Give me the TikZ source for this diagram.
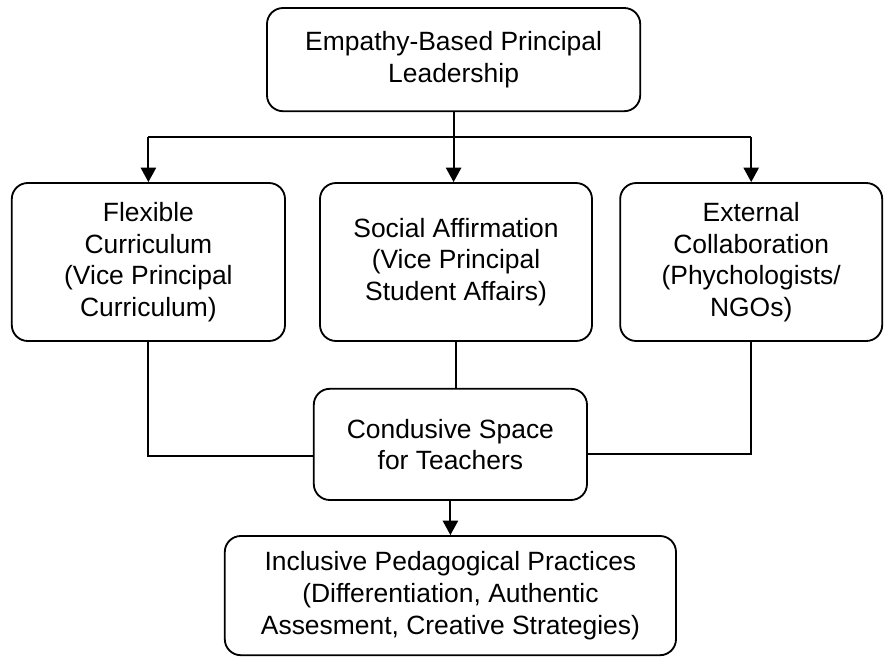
\documentclass[tikz,border=0pt]{standalone}
\usepackage{fontspec}
\setmainfont{Liberation Sans}
\usetikzlibrary{arrows.meta, positioning, calc}

\begin{document}
\begin{tikzpicture}[
    font=\fontsize{18.8}{22.5}\selectfont,
    >={Triangle[length=0.36cm, width=0.38cm]},
    line width=1.3pt,
    box/.style={draw, rounded corners=0.4cm, align=center, inner sep=0pt},
    link/.style={draw, line width=1.3pt},
]

\useasboundingbox (0, 0) rectangle (22.1, -16.425);

\def\rowy{-6.55}

% top box
\node[box, minimum width=9.33cm, minimum height=2.58cm] (lead) at (11.34, -1.49)
    {Empathy-Based Principal\\Leadership};

% middle row
\node[box, minimum width=6.83cm, minimum height=3.95cm] (flex) at (3.71, \rowy)
    {Flexible\\Curriculum\\(Vice Principal\\Curriculum)};
\node[box, minimum width=6.8cm, minimum height=3.95cm] (social) at (11.4, \rowy)
    {Social Affirmation\\(Vice Principal\\Student Affairs)};
\node[box, minimum width=6.55cm, minimum height=3.95cm] (ext) at (18.78, \rowy)
    {External\\Collaboration\\(Phychologists/\\NGOs)};

% lower boxes
\node[box, minimum width=6.83cm, minimum height=2.78cm] (space) at (11.26, -11.11)
    {Condusive Space\\for Teachers};
\node[box, minimum width=11.28cm, minimum height=2.98cm] (incl) at (11.26, -14.89)
    {Inclusive Pedagogical Practices\\(Differentiation, Authentic\\Assesment, Creative Strategies)};

% branching bar
\coordinate (bar) at (0, -3.425);
\draw[link] (lead.south) -- (lead.south |- bar);
\draw[link] (flex.north |- bar) -- (ext.north |- bar);
\draw[link, ->] (flex.north |- bar) -- (flex.north);
\draw[link, ->] (lead.south |- bar) -- (lead.south |- social.north);
\draw[link, ->] (ext.north |- bar) -- (ext.north);

% joining lines
\draw[link] (flex.south) |- ([yshift=-0.28cm]space.west);
\draw[link] (social.south) -- (social.south |- space.north);
\draw[link] (ext.south) |- ([yshift=-0.25cm]space.east);
\draw[link, ->] (space.south) -- (incl.north);

\end{tikzpicture}
\end{document}
